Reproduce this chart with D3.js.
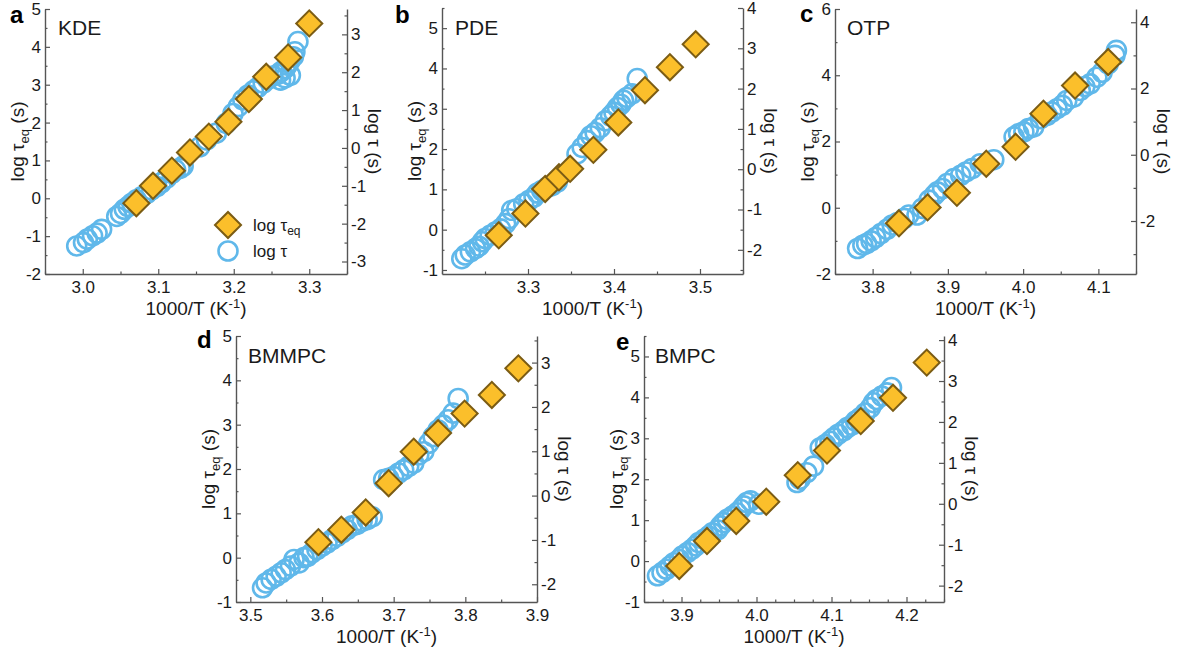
<!DOCTYPE html>
<html>
<head>
<meta charset="utf-8">
<script src="https://cdn.jsdelivr.net/npm/d3@7"></script>
<style>
body { margin: 0; background: #fff; }
svg { font-family: "Liberation Sans", Arial, Helvetica, sans-serif; }
</style>
</head>
<body>
<script>
// ---- data ----
// x = 1000/T (K^-1), eq = log tau_eq (left axis), tau = log tau (right axis)

// a: KDE
var kdeEqX = [3.071, 3.093, 3.118, 3.142, 3.167, 3.193, 3.220, 3.243, 3.272, 3.300];
var kdeEqLog = [-0.13, 0.33, 0.73, 1.21, 1.63, 2.02, 2.62, 3.21, 3.72, 4.62];
var kdeTauX = [2.992, 3.001, 3.006, 3.013, 3.019, 3.025, 3.045, 3.050, 3.055, 3.060, 3.065, 3.071, 3.078, 3.085, 3.091,
  3.098, 3.104, 3.111, 3.118, 3.123, 3.129, 3.133, 3.155, 3.164, 3.177, 3.190, 3.199, 3.206, 3.212, 3.219, 3.226,
  3.232, 3.239, 3.245, 3.252, 3.259, 3.263, 3.268, 3.271, 3.274, 3.279, 3.281, 3.285, 3.262, 3.268, 3.275];
var kdeTauLog = [-2.59, -2.50, -2.41, -2.32, -2.25, -2.15, -1.81, -1.73, -1.62, -1.55, -1.46, -1.37, -1.29, -1.20, -1.11,
  -1.02, -0.92, -0.80, -0.67, -0.58, -0.54, -0.48, 0.03, 0.21, 0.39, 0.65, 0.91, 1.09, 1.27, 1.40, 1.51,
  1.60, 1.71, 1.81, 1.90, 1.95, 2.02, 2.10, 2.19, 2.28, 2.41, 2.54, 2.81, 1.79, 1.85, 1.92];

// b: PDE
var pdeEqX = [3.266, 3.297, 3.320, 3.336, 3.349, 3.376, 3.405, 3.436, 3.465, 3.495];
var pdeEqLog = [-0.14, 0.40, 1.01, 1.30, 1.51, 1.98, 2.66, 3.46, 4.03, 4.60];
var pdeTauX = [3.223, 3.227, 3.233, 3.239, 3.243, 3.247, 3.250, 3.256, 3.262, 3.268, 3.274, 3.278, 3.281, 3.287, 3.295,
  3.301, 3.307, 3.311, 3.316, 3.322, 3.328, 3.334, 3.357, 3.363, 3.369, 3.373, 3.378, 3.384, 3.390, 3.396,
  3.400, 3.404, 3.408, 3.411, 3.415, 3.421, 3.427];
var pdeTauLog = [-2.22, -2.13, -2.05, -1.97, -1.91, -1.80, -1.72, -1.64, -1.56, -1.48, -1.35, -1.23, -1.02, -0.98, -0.86,
  -0.78, -0.69, -0.59, -0.53, -0.45, -0.41, -0.32, 0.38, 0.54, 0.71, 0.83, 0.91, 1.03, 1.20, 1.32,
  1.41, 1.53, 1.61, 1.71, 1.78, 1.87, 2.25];

// c: OTP
var otpEqX = [3.835, 3.873, 3.912, 3.951, 3.990, 4.027, 4.069, 4.113];
var otpEqLog = [-0.47, 0.01, 0.45, 1.33, 1.84, 2.84, 3.69, 4.40];
var otpTauX = [3.780, 3.787, 3.792, 3.798, 3.804, 3.811, 3.819, 3.826, 3.833, 3.842, 3.848, 3.859, 3.866, 3.875, 3.882,
  3.886, 3.893, 3.899, 3.908, 3.917, 3.924, 3.932, 3.943, 3.961, 3.988, 3.994, 4.001, 4.007, 4.014, 4.023,
  4.032, 4.038, 4.045, 4.052, 4.058, 4.067, 4.076, 4.082, 4.089, 4.098, 4.105, 4.113, 4.122, 4.124];
var otpTauLog = [-2.83, -2.73, -2.68, -2.60, -2.50, -2.38, -2.25, -2.12, -2.05, -1.92, -1.82, -1.82, -1.62, -1.37, -1.22,
  -1.12, -1.02, -0.87, -0.72, -0.62, -0.52, -0.42, -0.27, -0.15, 0.54, 0.64, 0.69, 0.79, 0.84, 1.09,
  1.19, 1.29, 1.39, 1.49, 1.64, 1.74, 1.94, 2.06, 2.14, 2.34, 2.49, 2.74, 3.00, 3.15];

// d: BMMPC
var bmmpcEqX = [3.595, 3.627, 3.661, 3.693, 3.728, 3.762, 3.799, 3.837, 3.874];
var bmmpcEqLog = [0.35, 0.63, 1.02, 1.68, 2.39, 2.81, 3.25, 3.67, 4.27];
var bmmpcTauX = [3.517, 3.522, 3.529, 3.536, 3.543, 3.549, 3.556, 3.561, 3.568, 3.575, 3.580, 3.586, 3.593, 3.600, 3.607,
  3.614, 3.621, 3.628, 3.635, 3.642, 3.649, 3.656, 3.663, 3.670, 3.686, 3.693, 3.700, 3.707, 3.714, 3.721,
  3.728, 3.735, 3.742, 3.749, 3.755, 3.762, 3.769, 3.776, 3.783, 3.790];
var bmmpcTauLog = [-2.08, -1.97, -1.89, -1.82, -1.74, -1.67, -1.59, -1.44, -1.52, -1.40, -1.37, -1.29, -1.22, -1.14, -1.07,
  -0.99, -0.92, -0.84, -0.77, -0.68, -0.65, -0.58, -0.54, -0.48, 0.36, 0.39, 0.43, 0.51, 0.58, 0.66,
  0.73, 0.92, 0.99, 1.18, 1.33, 1.48, 1.59, 1.71, 1.86, 2.19];

// e: BMPC
var bmpcEqX = [3.897, 3.934, 3.973, 4.013, 4.055, 4.094, 4.139, 4.182, 4.227];
var bmpcEqLog = [-0.12, 0.49, 0.98, 1.45, 2.10, 2.70, 3.42, 3.99, 4.85];
var bmpcTauX = [3.868, 3.874, 3.880, 3.885, 3.890, 3.897, 3.901, 3.908, 3.914, 3.919, 3.923, 3.930, 3.936, 3.941, 3.948,
  3.952, 3.956, 3.961, 3.968, 3.974, 3.979, 3.983, 3.987, 3.992, 4.003, 4.054, 4.058, 4.067, 4.076, 4.085,
  4.092, 4.098, 4.103, 4.109, 4.116, 4.121, 4.127, 4.132, 4.138, 4.145, 4.152, 4.156, 4.160, 4.167, 4.174, 4.180];
var bmpcTauLog = [-1.76, -1.68, -1.60, -1.52, -1.44, -1.36, -1.28, -1.19, -1.11, -1.03, -0.95, -0.87, -0.79, -0.71, -0.64,
  -0.54, -0.46, -0.38, -0.30, -0.22, -0.14, -0.05, 0.03, 0.07, -0.01, 0.52, 0.60, 0.76, 0.92, 1.37,
  1.45, 1.53, 1.61, 1.70, 1.78, 1.86, 1.92, 2.02, 2.10, 2.22, 2.35, 2.47, 2.55, 2.63, 2.71, 2.84];

// tick labels
var kdeXTicks = [3.0, 3.1, 3.2, 3.3], kdeLeftTicks = [-2, -1, 0, 1, 2, 3, 4, 5], kdeRightTicks = [-3, -2, -1, 0, 1, 2, 3];
var pdeXTicks = [3.3, 3.4, 3.5], pdeLeftTicks = [-1, 0, 1, 2, 3, 4, 5], pdeRightTicks = [-2, -1, 0, 1, 2, 3, 4];
var otpXTicks = [3.8, 3.9, 4.0, 4.1], otpLeftTicks = [-2, 0, 2, 4, 6], otpRightTicks = [-2, 0, 2, 4];
var bmmpcXTicks = [3.5, 3.6, 3.7, 3.8, 3.9], bmmpcLeftTicks = [-1, 0, 1, 2, 3, 4, 5], bmmpcRightTicks = [-2, -1, 0, 1, 2, 3];
var bmpcXTicks = [3.9, 4.0, 4.1, 4.2], bmpcLeftTicks = [-1, 0, 1, 2, 3, 4, 5], bmpcRightTicks = [-2, -1, 0, 1, 2, 3, 4];

// ---- layout ----
var w = 1182, h = 651;
var fillEq = "#fbbf2b", strokeEq = "#7b5c14", strokeTau = "#60b8ea", axisColor = "#555", textColor = "#1a1a1a";

var panels = [
  {letter: "a", name: "KDE", left: 45, right: 347, top: 9, bottom: 274, xDom: [2.95, 3.35], yDom: [-2, 5], offset: 1.33,
   xMinor: 0.05, yMinor: 0.5, xTicks: kdeXTicks, leftTicks: kdeLeftTicks, rightTicks: kdeRightTicks,
   eqX: kdeEqX, eqLog: kdeEqLog, tauX: kdeTauX, tauLog: kdeTauLog, letterPos: [10, 23], namePos: [58, 35]},
  {letter: "b", name: "PDE", left: 442, right: 743, top: 8, bottom: 274, xDom: [3.2, 3.55], yDom: [-1.1, 5.5], offset: 1.5,
   xMinor: 0.05, yMinor: 0.5, xTicks: pdeXTicks, leftTicks: pdeLeftTicks, rightTicks: pdeRightTicks,
   eqX: pdeEqX, eqLog: pdeEqLog, tauX: pdeTauX, tauLog: pdeTauLog, letterPos: [395, 23], namePos: [455, 35]},
  {letter: "c", name: "OTP", left: 835, right: 1136, top: 9, bottom: 274, xDom: [3.75, 4.15], yDom: [-2, 6], offset: 1.6,
   xMinor: 0.05, yMinor: 1, xTicks: otpXTicks, leftTicks: otpLeftTicks, rightTicks: otpRightTicks,
   eqX: otpEqX, eqLog: otpEqLog, tauX: otpTauX, tauLog: otpTauLog, letterPos: [800, 22], namePos: [847, 35]},
  {letter: "d", name: "BMMPC", left: 236, right: 537, top: 336, bottom: 602, xDom: [3.48, 3.9], yDom: [-1, 5], offset: 1.4,
   xMinor: 0.05, yMinor: 0.5, xTicks: bmmpcXTicks, leftTicks: bmmpcLeftTicks, rightTicks: bmmpcRightTicks,
   eqX: bmmpcEqX, eqLog: bmmpcEqLog, tauX: bmmpcTauX, tauLog: bmmpcTauLog, letterPos: [197, 348], namePos: [248, 363]},
  {letter: "e", name: "BMPC", left: 644, right: 944, top: 336, bottom: 602, xDom: [3.85, 4.25], yDom: [-1, 5.5], offset: 1.4,
   xMinor: 0.025, yMinor: 0.5, xTicks: bmpcXTicks, leftTicks: bmpcLeftTicks, rightTicks: bmpcRightTicks,
   eqX: bmpcEqX, eqLog: bmpcEqLog, tauX: bmpcTauX, tauLog: bmpcTauLog, letterPos: [616, 350], namePos: [655, 363]}
];

var svg = d3.select("body").append("svg")
  .attr("width", w)
  .attr("height", h);

var diamond = d3.symbol(d3.symbolSquare, 340)();
var circleR = 9.5;

// minor tick values between start and end, skipping the majors
function minorTicks(dom, step, majors) {
  var out = [];
  var start = Math.ceil(dom[0] / step - 1e-9) * step;
  for (var v = start; v <= dom[1] + 1e-9; v += step) {
    var r = Math.round(v * 1000) / 1000;
    if (majors.every(function(m) { return Math.abs(m - r) > 1e-6; })) out.push(r);
  }
  return out;
}

function styleAxis(sel) {
  sel.select(".domain").attr("stroke", axisColor).attr("stroke-width", 1.4);
  sel.selectAll(".tick line").attr("stroke", axisColor).attr("stroke-width", 1.2);
  sel.selectAll(".tick text").attr("fill", textColor).attr("font-size", "17px")
    .attr("font-family", "Liberation Sans, Arial, sans-serif");
  sel.attr("font-family", null).attr("font-size", null);
}

var intFmt = function(d) { return String(d); };
var decFmt = function(d) { return d.toFixed(1); };

panels.forEach(function(p) {
  var g = svg.append("g");

  var x = d3.scaleLinear().domain(p.xDom).range([p.left, p.right]);
  var y = d3.scaleLinear().domain(p.yDom).range([p.bottom, p.top]);
  var yRight = d3.scaleLinear().domain([p.yDom[0] - p.offset, p.yDom[1] - p.offset]).range([p.bottom, p.top]);

  // minor ticks first (no domain line)
  var mx = g.append("g").attr("transform", "translate(0," + p.bottom + ")")
    .call(d3.axisBottom(x).tickValues(minorTicks(p.xDom, p.xMinor, p.xTicks)).tickSize(-2.5).tickFormat(""));
  var ml = g.append("g").attr("transform", "translate(" + p.left + ",0)")
    .call(d3.axisLeft(y).tickValues(minorTicks(p.yDom, p.yMinor, p.leftTicks)).tickSize(-2.5).tickFormat(""));
  var rDom = yRight.domain();
  var mr = g.append("g").attr("transform", "translate(" + p.right + ",0)")
    .call(d3.axisRight(yRight).tickValues(minorTicks(rDom, p.yMinor, p.rightTicks)).tickSize(-2.5).tickFormat(""));
  [mx, ml, mr].forEach(function(s) { s.select(".domain").remove(); styleAxis(s); });

  // major axes
  g.append("g").attr("transform", "translate(0," + p.bottom + ")")
    .call(d3.axisBottom(x).tickValues(p.xTicks).tickSizeInner(-5).tickSizeOuter(0).tickPadding(7).tickFormat(decFmt))
    .call(styleAxis);
  g.append("g").attr("transform", "translate(" + p.left + ",0)")
    .call(d3.axisLeft(y).tickValues(p.leftTicks).tickSizeInner(-5).tickSizeOuter(0).tickPadding(4).tickFormat(intFmt))
    .call(styleAxis);
  g.append("g").attr("transform", "translate(" + p.right + ",0)")
    .call(d3.axisRight(yRight).tickValues(p.rightTicks).tickSizeInner(-5).tickSizeOuter(0).tickPadding(4).tickFormat(intFmt))
    .call(styleAxis);

  // log tau circles (right axis)
  g.append("g").selectAll("circle")
    .data(d3.zip(p.tauX, p.tauLog))
    .join("circle")
    .attr("cx", function(d) { return x(d[0]); })
    .attr("cy", function(d) { return yRight(d[1]); })
    .attr("r", circleR)
    .attr("fill", "none")
    .attr("stroke", strokeTau)
    .attr("stroke-width", 2.6);

  // log tau_eq diamonds (left axis)
  g.append("g").selectAll("path")
    .data(d3.zip(p.eqX, p.eqLog))
    .join("path")
    .attr("d", diamond)
    .attr("transform", function(d) { return "translate(" + x(d[0]) + "," + y(d[1]) + ") rotate(45)"; })
    .attr("fill", fillEq)
    .attr("stroke", strokeEq)
    .attr("stroke-width", 2);

  // panel letter and sample name
  g.append("text").attr("x", p.letterPos[0]).attr("y", p.letterPos[1])
    .attr("font-size", "24px").attr("font-weight", "bold").attr("fill", "#000").text(p.letter);
  g.append("text").attr("x", p.namePos[0]).attr("y", p.namePos[1])
    .attr("font-size", "21px").attr("fill", textColor).text(p.name);

  // x title
  var xt = g.append("text")
    .attr("x", (p.left + p.right) / 2).attr("y", p.bottom + 41)
    .attr("text-anchor", "middle").attr("font-size", "19px").attr("fill", textColor);
  xt.append("tspan").text("1000/T (K");
  xt.append("tspan").attr("font-size", "13px").attr("dy", -7).text("-1");
  xt.append("tspan").attr("dy", 7).text(")");

  var midY = (p.top + p.bottom) / 2;
  // left title
  var lt = g.append("text")
    .attr("transform", "translate(" + (p.left - 28) + "," + midY + ") rotate(-90)")
    .attr("dy", "0.35em")
    .attr("text-anchor", "middle").attr("font-size", "19px").attr("fill", textColor);
  lt.append("tspan").text("log \u03c4");
  lt.append("tspan").attr("font-size", "13px").attr("dy", 5).text("eq");
  lt.append("tspan").attr("dy", -5).text(" (s)");

  // right title
  g.append("text")
    .attr("transform", "translate(" + (p.right + 28) + "," + midY + ") rotate(90)")
    .attr("dy", "0.35em")
    .attr("text-anchor", "middle").attr("font-size", "19px").attr("fill", textColor)
    .text("log \u03c4 (s)");
});

// legend in panel a
var leg = svg.append("g").attr("transform", "translate(228,0)");
leg.append("path").attr("d", diamond)
  .attr("transform", "translate(0,225) rotate(45)")
  .attr("fill", fillEq).attr("stroke", strokeEq).attr("stroke-width", 2);
leg.append("circle").attr("cx", 0).attr("cy", 251).attr("r", circleR)
  .attr("fill", "none").attr("stroke", strokeTau).attr("stroke-width", 2.6);
var l1 = leg.append("text").attr("x", 25).attr("y", 231).attr("font-size", "17px").attr("fill", textColor);
l1.append("tspan").text("log \u03c4");
l1.append("tspan").attr("font-size", "12px").attr("dy", 4).text("eq");
leg.append("text").attr("x", 25).attr("y", 257).attr("font-size", "17px").attr("fill", textColor).text("log \u03c4");
</script>
</body>
</html>
